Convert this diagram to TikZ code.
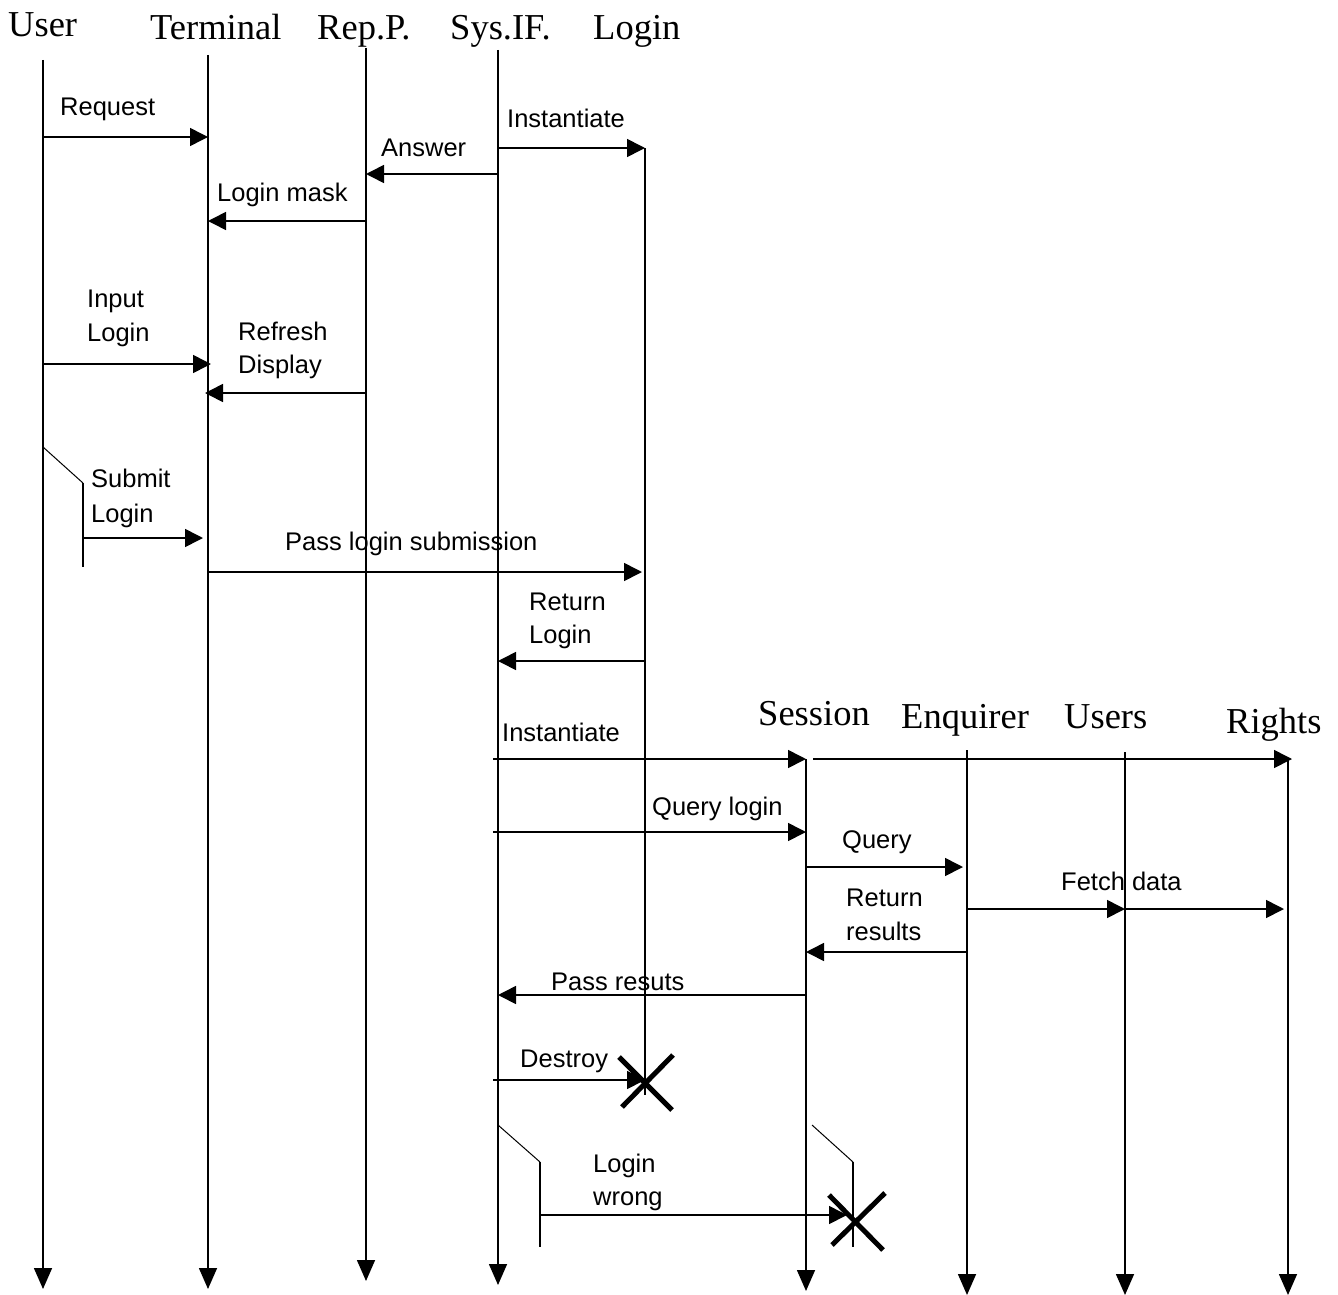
\documentclass[tikz,border=0pt]{standalone}
\usepackage{fontspec}
\setmainfont{Liberation Sans}
\newfontfamily\hdfont{Liberation Serif}
\usetikzlibrary{arrows.meta}
\begin{document}
\begin{tikzpicture}[x=1pt,y=-1pt,
  life/.style={line width=1.6pt,-{Triangle[length=21pt,width=18pt]}},
  msg/.style={line width=1.6pt,-{Triangle[length=18pt,width=18pt]}},
  bar/.style={line width=1.6pt},
  thin/.style={line width=1pt},
  hd/.style={anchor=base west,inner sep=0pt,font=\hdfont\fontsize{36.5}{40}\selectfont},
  lbl/.style={anchor=base west,inner sep=0pt,font=\fontsize{25.5}{30}\selectfont},
  kill/.style={line width=5pt}]
\useasboundingbox (0,0) rectangle (1338,1295);
% headers
\node[hd] (hUser) at (8,37) {User};
\node[hd] (hTerm) at (150,40) {Terminal};
\node[hd] (hRep) at (317,40) {Rep.P.};
\node[hd] (hSys) at (450,40) {Sys.IF.};
\node[hd] (hLog) at (593,40) {Login};
\node[hd] (hSes) at (758,725) {Session};
\node[hd] (hEnq) at (901,728) {Enquirer};
\node[hd] (hUsr) at (1064,728) {Users};
\node[hd] (hRig) at (1226,733) {Rights};
% lifelines
\coordinate (U0) at (43,60);   \coordinate (U1) at (43,1289);
\coordinate (T0) at (208,55);  \coordinate (T1) at (208,1289);
\coordinate (R0) at (366,48);  \coordinate (R1) at (366,1281);
\coordinate (S0) at (498,50);  \coordinate (S1) at (498,1285);
\coordinate (L0) at (645,148); \coordinate (L1) at (645,1095);
\coordinate (E0) at (806,759); \coordinate (E1) at (806,1291);
\coordinate (Q0) at (967,750); \coordinate (Q1) at (967,1295);
\coordinate (D0) at (1125,752);\coordinate (D1) at (1125,1295);
\coordinate (G0) at (1288,760);\coordinate (G1) at (1288,1295);
\draw[life] (U0) -- (U1);
\draw[life] (T0) -- (T1);
\draw[life] (R0) -- (R1);
\draw[life] (S0) -- (S1);
\draw[bar] (L0) -- (L1);
\draw[life] (E0) -- (E1);
\draw[life] (Q0) -- (Q1);
\draw[life] (D0) -- (D1);
\draw[life] (G0) -- (G1);
% activation bars
\coordinate (ua) at (43,447); \coordinate (ub) at (83,483); \coordinate (uc) at (83,567);
\draw[thin] (ua) -- (ub); \draw[bar] (ub) -- (uc);
\coordinate (sa) at (498,1125); \coordinate (sb) at (540,1162); \coordinate (sc) at (540,1247);
\draw[thin] (sa) -- (sb); \draw[bar] (sb) -- (sc);
\coordinate (ea) at (812,1125); \coordinate (eb) at (853,1162); \coordinate (ec) at (853,1247);
\draw[thin] (ea) -- (eb); \draw[bar] (eb) -- (ec);
% messages
\draw[msg] (U0 |- 0,137) -- (T0 |- 0,137);
\node[lbl] (m1) at (60,116) {Request};
\draw[msg] (S0 |- 0,148) -- (L0 |- 0,148);
\node[lbl] (m2) at (507,128) {Instantiate};
\draw[msg] (S0 |- 0,174) -- (R0 |- 0,174);
\node[lbl] (m3) at (381,157) {Answer};
\draw[msg] (R0 |- 0,221) -- (T0 |- 0,221);
\node[lbl] (m4) at (217,201) {Login mask};
\draw[msg] (U0 |- 0,364) -- ([xshift=3pt]T0 |- 0,364);
\node[lbl] (m5a) at (87,307) {Input};
\node[lbl] (m5b) at (87,341) {Login};
\draw[msg] (R0 |- 0,393) -- ([xshift=-3pt]T0 |- 0,393);
\node[lbl] (m6a) at (238,340) {Refresh};
\node[lbl] (m6b) at (238,373) {Display};
\draw[msg] (ub |- 0,538) -- ([xshift=-5pt]T0 |- 0,538);
\node[lbl] (m7a) at (91,487) {Submit};
\node[lbl] (m7b) at (91,522) {Login};
\draw[msg] (T0 |- 0,572) -- ([xshift=-3pt]L0 |- 0,572);
\node[lbl] (m8) at (285,550) {Pass login submission};
\draw[msg] (L0 |- 0,661) -- (S0 |- 0,661);
\node[lbl] (m9a) at (529,610) {Return};
\node[lbl] (m9b) at (529,643) {Login};
\draw[msg] ([xshift=-5pt]S0 |- 0,759) -- (E0 |- 0,759);
\node[lbl] (m10) at (502,741) {Instantiate};
\draw[msg] ([xshift=7pt]E0 |- 0,759) -- ([xshift=4pt]G0 |- 0,759);
\draw[msg] ([xshift=-5pt]S0 |- 0,832) -- (E0 |- 0,832);
\node[lbl] (m11) at (652,815) {Query login};
\draw[msg] (E0 |- 0,867) -- ([xshift=-4pt]Q0 |- 0,867);
\node[lbl] (m12) at (842,848) {Query};
\draw[msg] (Q0 |- 0,909) -- (D0 |- 0,909);
\draw[msg] (D0 |- 0,909) -- ([xshift=-4pt]G0 |- 0,909);
\node[lbl] (m13) at (1061,890) {Fetch data};
\draw[msg] (Q0 |- 0,952) -- (E0 |- 0,952);
\node[lbl] (m14a) at (846,906) {Return};
\node[lbl] (m14b) at (846,940) {results};
\draw[msg] (E0 |- 0,995) -- (S0 |- 0,995);
\node[lbl] (m15) at (551,990) {Pass resuts};
\draw[msg] ([xshift=-5pt]S0 |- 0,1080) -- (L0 |- 0,1080);
\node[lbl] (m16) at (520,1067) {Destroy};
\draw[msg] (sb |- 0,1215) -- ([xshift=-6pt]eb |- 0,1215);
\node[lbl] (m17a) at (593,1172) {Login};
\node[lbl] (m17b) at (593,1205) {wrong};
% destruction marks
\draw[kill] (619,1057) -- (672,1110);
\draw[kill] (673,1055) -- (622,1107);
\draw[kill] (829,1195) -- (883,1250);
\draw[kill] (885,1193) -- (832,1245);
\end{tikzpicture}
\end{document}
